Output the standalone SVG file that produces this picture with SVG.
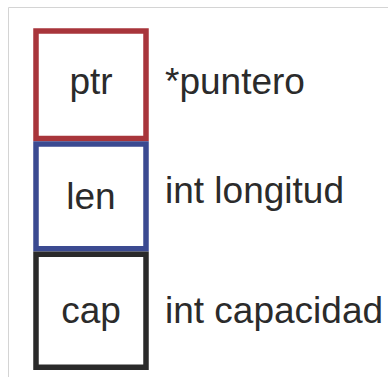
<svg xmlns="http://www.w3.org/2000/svg" width="388" height="377" viewBox="0 0 388 377">
<style>
.box{fill:#ffffff;stroke-width:5.5}
.t{font-family:"Liberation Sans",Arial,sans-serif;font-size:37px;fill:#2b2b2b}
.c{text-anchor:middle}
</style>
<rect x="0" y="0" width="388" height="377" fill="#ffffff"/>
<path d="M8.5,377 V7.5 H388" fill="none" stroke="#d4d4d4" stroke-width="1"/>
<g id="connectors"></g>
<g id="ptr">
<rect class="box" x="36" y="31" width="110" height="107.5" stroke="#a8353b"/>
<text class="t c" x="91" y="94">ptr</text>
<text class="t" x="165" y="94">*puntero</text>
</g>
<g id="len">
<rect class="box" x="36" y="144" width="110" height="104.75" stroke="#3b4a91"/>
<text class="t c" x="91" y="209">len</text>
<text class="t" x="165" y="203">int longitud</text>
</g>
<g id="cap">
<rect class="box" x="36" y="254.25" width="110" height="113" stroke="#2a2a2a"/>
<text class="t c" x="91" y="323">cap</text>
<text class="t" x="165" y="323">int capacidad</text>
</g>
</svg>
